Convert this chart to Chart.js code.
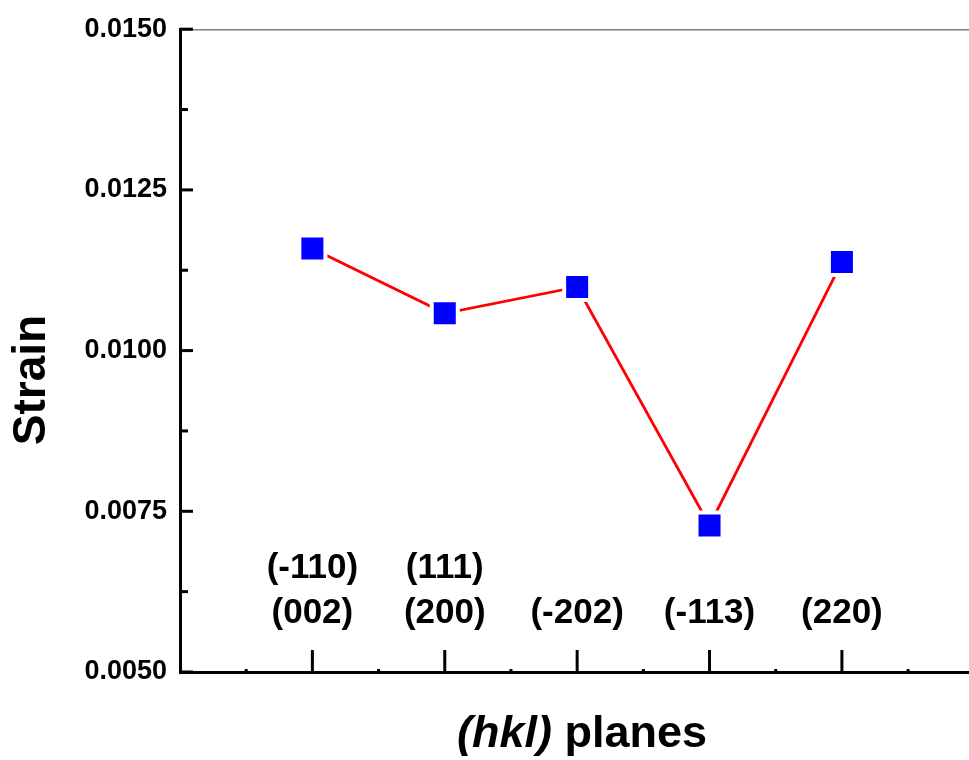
<!DOCTYPE html>
<html>
<head>
<meta charset="utf-8">
<script src="https://cdn.jsdelivr.net/npm/chart.js@4/dist/chart.umd.min.js"></script>
<style>
  body { margin: 0; background: #fff; }
</style>
</head>
<body>
<canvas id="plot" width="969" height="760"></canvas>
<script>
/* Strain per (hkl) plane */

const planes = [['(-110)', '(002)'], ['(111)', '(200)'], ['(-202)'], ['(-113)'], ['(220)']];
const strain = [0.01159, 0.01058, 0.01099, 0.00728, 0.01138];
const strainTicks = [0.0050, 0.0075, 0.0100, 0.0125, 0.0150];

const FONT = 'Arial, "Liberation Sans", sans-serif';

function line(ctx, x1, y1, x2, y2) {
    ctx.beginPath();
    ctx.moveTo(x1, y1);
    ctx.lineTo(x2, y2);
    ctx.stroke();
}

// inward ticks, plane labels and axis titles
const decor = {
    id: 'decor',
    afterDraw(chart) {
        const { ctx, chartArea: a, scales: { x, y } } = chart;
        ctx.save();

        // thin top frame
        ctx.strokeStyle = '#7f7f7f';
        ctx.lineWidth = 1.5;
        line(ctx, a.left, a.top + 0.5, a.right, a.top + 0.5);

        ctx.strokeStyle = '#000';
        ctx.lineWidth = 3;
        y.ticks.forEach((t, i) => {
            const py = y.getPixelForValue(t.value);
            line(ctx, a.left, py, a.left + 13, py);
            if (i < y.ticks.length - 1) {
                const pm = y.getPixelForValue((t.value + y.ticks[i + 1].value) / 2);
                line(ctx, a.left, pm, a.left + 8, pm);
            }
        });

        planes.forEach((p, i) => {
            const px = x.getPixelForValue(i + 1);
            line(ctx, px, a.bottom, px, a.bottom - 22);
            const pm = x.getPixelForValue(i + 0.5);
            line(ctx, pm, a.bottom, pm, a.bottom - 3);
        });
        const last = x.getPixelForValue(planes.length + 0.5);
        line(ctx, last, a.bottom, last, a.bottom - 3);

        // plane labels above the axis
        ctx.fillStyle = '#000';
        ctx.textAlign = 'center';
        ctx.textBaseline = 'middle';
        ctx.font = 'bold 35px ' + FONT;
        planes.forEach((p, i) => {
            const px = x.getPixelForValue(i + 1);
            p.forEach((txt, j) => {
                ctx.fillText(txt, px, 613 - (p.length - 1 - j) * 45);
            });
        });

        // x title: (hkl) italic
        ctx.textAlign = 'left';
        ctx.textBaseline = 'alphabetic';
        const fItal = 'italic bold 45px ' + FONT;
        const fBold = 'bold 45px ' + FONT;
        ctx.font = fItal;
        const w1 = ctx.measureText('(hkl)').width;
        ctx.font = fBold;
        const w2 = ctx.measureText(' planes').width;
        const x0 = 582 - (w1 + w2) / 2;
        ctx.font = fItal;
        ctx.fillText('(hkl)', x0, 747);
        ctx.font = fBold;
        ctx.fillText(' planes', x0 + w1, 747);

        // y title
        ctx.translate(32, 380);
        ctx.rotate(-Math.PI / 2);
        ctx.textAlign = 'center';
        ctx.textBaseline = 'middle';
        ctx.font = 'bold 46px ' + FONT;
        ctx.fillText('Strain', 0, 0);

        ctx.restore();
    }
};

new Chart(document.getElementById('plot'), {
    type: 'line',
    data: {
        datasets: [{
            data: planes.map((p, i) => ({ x: i + 1, y: strain[i] })),
            borderColor: '#ff0000',
            borderWidth: 2.8,
            tension: 0,
            pointStyle: 'rect',
            pointRadius: 18.4,
            pointHoverRadius: 18.4,
            pointBackgroundColor: '#0000ff',
            pointBorderColor: '#ffffff',
            pointBorderWidth: 4
        }]
    },
    options: {
        responsive: false,
        animation: false,
        layout: { autoPadding: false, padding: { top: 27, right: 0, bottom: 0, left: 0 } },
        plugins: { legend: { display: false }, tooltip: { enabled: false } },
        scales: {
            x: {
                type: 'linear',
                min: 0,
                max: 5.96,
                ticks: { display: false },
                grid: { display: false, drawTicks: false },
                border: { display: true, color: '#000', width: 3 },
                afterFit(scale) { scale.height = 88; }
            },
            y: {
                min: 0.005,
                max: 0.015,
                afterBuildTicks(scale) { scale.ticks = strainTicks.map(v => ({ value: v })); },
                ticks: {
                    padding: 13,
                    color: '#000',
                    font: { family: FONT, size: 27, weight: 'bold' },
                    callback: v => v.toFixed(4)
                },
                grid: { display: false, drawTicks: false },
                border: { display: true, color: '#000', width: 3 },
                afterFit(scale) { scale.width = 180; }
            }
        }
    },
    plugins: [decor]
});
</script>
</body>
</html>
